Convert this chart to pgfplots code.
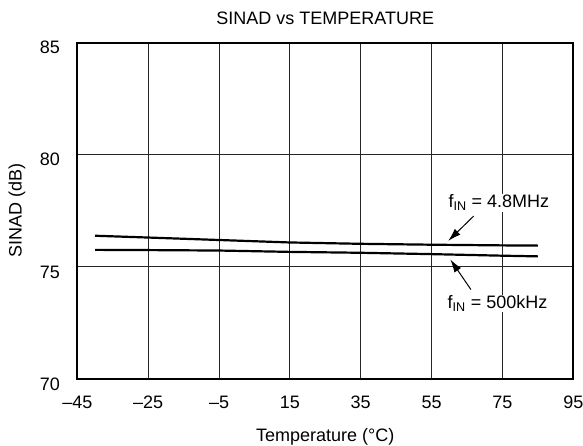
\documentclass[border=0pt]{standalone}
\usepackage{fontspec}
\setmainfont{Liberation Sans}
\usepackage{pgfplots}
\pgfplotsset{compat=1.18}
\usetikzlibrary{arrows.meta}
\begin{document}
\fontsize{18}{21}\selectfont
\begin{tikzpicture}
\begin{axis}[
  at={(0,0)}, anchor=south west,
  scale only axis,
  width=496pt, height=336.3pt,
  xmin=-45, xmax=95, ymin=70, ymax=85,
  xtick={-45,-25,-5,15,35,55,75,95},
  xticklabels={\textendash45,\textendash25,\textendash5,15,35,55,75,95},
  ytick={70,75,80,85},
  yticklabels={70,75,80,85},
  major tick length=0pt,
  grid=major,
  major grid style={line width=0.9pt, black!85},
  axis line style={line width=2pt},
  xticklabel style={anchor=center, inner sep=0pt, yshift=-23pt},
  yticklabel style={anchor=east, inner sep=0pt, xshift=-17.3pt, yshift=-5pt},
  tick label style={font=\fontsize{18}{21}\selectfont},
  title={SINAD vs TEMPERATURE},
  title style={at={(axis description cs:0.5,1.0551)}, anchor=center, inner sep=0pt, font=\fontsize{18}{21}\selectfont},
  xlabel={Temperature (\textdegree C)},
  xlabel style={at={(axis description cs:0.5,-0.1716)}, anchor=center, inner sep=0pt, font=\fontsize{18}{21}\selectfont},
  ylabel={SINAD (dB)},
  ylabel style={at={(axis description cs:-0.1216,0.5)}, anchor=center, inner sep=0pt, font=\fontsize{18}{21}\selectfont},
  clip=false,
]
\addplot[black, line width=2.2pt] coordinates {
 (-40,76.39) (-25,76.31) (-5,76.20) (15,76.09) (35,76.03) (55,75.99) (75,75.96) (85,75.95)};
\addplot[black, line width=2.2pt] coordinates {
 (-40,75.76) (-25,75.75) (-5,75.73) (15,75.67) (35,75.63) (55,75.57) (75,75.50) (85,75.47)};
\draw[-{Latex[length=13pt,width=8pt]}, line width=1pt] (axis cs:66.9,77.27) -- (axis cs:59.7,76.16);
\draw[-{Latex[length=13pt,width=8pt]}, line width=1pt] (axis cs:66.1,73.99) -- (axis cs:60.3,75.33);
\node[anchor=center, fill=white, inner sep=1pt] at (axis cs:74.0,77.86) {f\textsubscript{IN} = 4.8MHz};
\node[anchor=center, fill=white, inner sep=1pt] at (axis cs:73.6,73.37) {f\textsubscript{IN} = 500kHz};
\end{axis}
\pgfresetboundingbox
\useasboundingbox (-77.3pt,-66pt) rectangle (505.7pt,379pt);
\end{tikzpicture}
\end{document}
